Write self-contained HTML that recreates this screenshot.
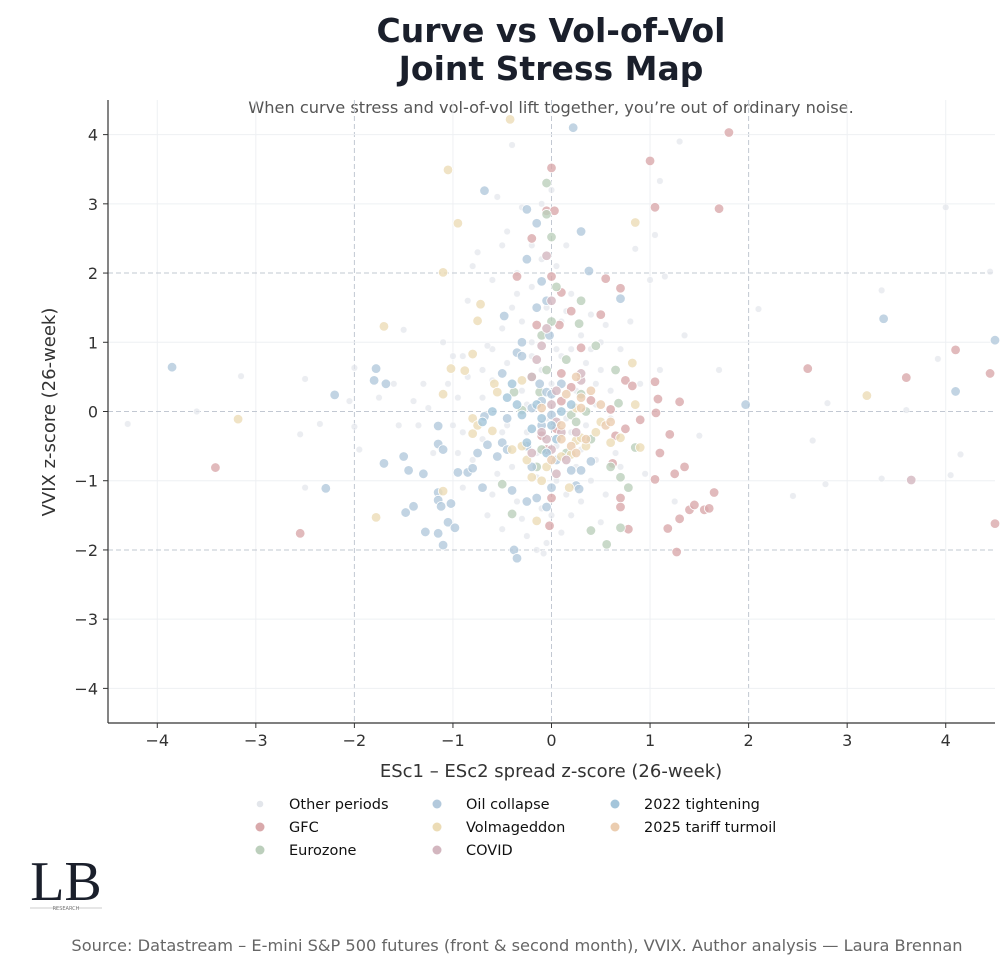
<!DOCTYPE html>
<html><head><meta charset="utf-8">
<style>
html,body{margin:0;padding:0;background:#fff;}
body{width:1008px;height:966px;overflow:hidden;font-family:"DejaVu Sans","Liberation Sans",sans-serif;}
</style></head>
<body>
<svg id="chart" width="1008" height="966" xmlns="http://www.w3.org/2000/svg" font-family="DejaVu Sans, Liberation Sans, sans-serif">
  <text x="551" y="42" text-anchor="middle" font-size="33" font-weight="bold" fill="#1a1f2b">Curve vs Vol-of-Vol</text>
  <text x="551" y="80" text-anchor="middle" font-size="33" font-weight="bold" fill="#1a1f2b">Joint Stress Map</text>
  <text x="551" y="113" text-anchor="middle" font-size="16.2" fill="#555">When curve stress and vol-of-vol lift together, you’re out of ordinary noise.</text>
  <g id="grid"></g>
  <g id="points"></g>
  <g id="axes"></g>
  <text x="551" y="777" text-anchor="middle" font-size="18" fill="#333">ESc1 – ESc2 spread z-score (26-week)</text>
  <text transform="translate(55,412) rotate(-90)" text-anchor="middle" font-size="18" fill="#333">VVIX z-score (26-week)</text>
  <g id="legend"></g>
  <g>
    <text x="66" y="900" text-anchor="middle" font-family="Liberation Serif, serif" font-size="56" fill="#1a1f2b">LB</text>
    <line x1="30" y1="908" x2="58" y2="908" stroke="#999" stroke-width="0.6"/>
    <line x1="76" y1="908" x2="102" y2="908" stroke="#999" stroke-width="0.6"/>
    <text x="66" y="910" text-anchor="middle" font-size="5" fill="#777">RESEARCH</text>
  </g>
  <text x="517" y="951" text-anchor="middle" font-size="16.2" fill="#666">Source: Datastream – E-mini S&amp;P 500 futures (front &amp; second month), VVIX. Author analysis — Laura Brennan</text>
</svg>
<script>
const seriesNames = ["Other periods","GFC","Eurozone","Oil collapse","Volmageddon","COVID","2022 tightening","2025 tariff turmoil"];
const xTicks = [-4,-3,-2,-1,0,1,2,3,4];
const yTicks = [-4,-3,-2,-1,0,1,2,3,4];
const otherPts = [[-4.3,-0.18],[-3.15,0.51],[-2.5,0.47],[-2.55,-0.33],[-2.5,-1.1],[-2.35,-0.18],[-2.0,0.63],[-2.05,0.15],[-2.0,-0.22],[-1.95,-0.55],[-1.75,0.2],[-1.6,0.4],[-1.5,1.18],[-1.55,-0.2],[-1.35,-0.2],[-1.4,0.15],[-1.2,-0.6],[-1.25,0.05],[-1.1,1.0],[-1.0,0.8],[-1.05,0.4],[-0.95,0.2],[-0.9,-0.3],[-0.95,-0.6],[-0.9,-1.1],[-0.85,1.6],[-0.8,2.1],[-0.75,2.3],[-0.7,0.6],[-0.7,-0.4],[-0.65,-1.5],[-0.6,1.9],[-0.6,0.9],[-0.55,3.1],[-0.5,2.4],[-0.5,1.2],[-0.5,-0.3],[-0.5,-1.7],[-0.45,2.6],[-0.45,0.7],[-0.4,-0.8],[-0.4,1.5],[-0.4,3.85],[-0.35,2.0],[-0.35,-1.3],[-0.3,2.95],[-0.3,1.3],[-0.3,0.3],[-0.25,-0.3],[-0.25,-1.8],[-0.2,1.8],[-0.2,0.8],[-0.2,2.4],[-0.15,-0.6],[-0.15,-2.0],[-0.1,3.0],[-0.1,2.2],[-0.1,0.6],[-0.1,-1.4],[-0.05,1.5],[-0.05,-0.1],[-0.05,-1.9],[0.0,3.2],[0.0,0.4],[0.0,-1.5],[0.05,2.1],[0.05,0.9],[0.05,-0.5],[0.1,-1.75],[0.1,1.3],[0.15,2.4],[0.15,-0.1],[0.15,-1.2],[0.2,0.9],[0.2,1.7],[0.2,-1.5],[0.25,0.3],[0.25,-0.8],[0.3,1.1],[0.3,-1.3],[0.35,0.7],[0.35,-0.2],[0.4,1.4],[0.4,-1.0],[0.45,0.4],[0.45,-0.7],[0.5,1.0],[0.55,1.25],[0.55,-1.2],[0.6,0.3],[0.65,-0.6],[0.7,0.9],[0.8,1.3],[0.85,2.35],[0.9,0.4],[0.95,-0.9],[1.0,1.9],[1.05,2.55],[1.1,3.33],[1.1,0.6],[1.15,1.95],[1.25,-1.3],[1.3,3.9],[1.35,1.1],[1.5,-0.35],[2.1,1.48],[2.45,-1.22],[2.65,-0.42],[2.8,0.12],[2.78,-1.05],[3.35,1.75],[3.35,-0.97],[3.6,0.02],[3.92,0.76],[4.0,2.95],[4.05,-0.92],[4.15,-0.62],[4.45,2.02],[1.7,0.6],[-0.15,-0.95],[0.1,0.8],[-0.6,0.45],[-0.7,0.2],[-0.85,0.5],[0.6,-0.1],[0.5,0.6],[-0.3,-1.55],[0.15,1.45],[-0.2,1.0],[0.3,-0.55],[-0.9,0.8],[0.45,0.1],[-0.45,-0.2],[-3.6,0.0],[-0.08,-2.05],[0.5,-1.6],[-0.65,0.95],[-0.8,-0.7],[-0.55,-0.9],[-0.35,1.7],[0.2,-0.3],[-0.25,0.1],[0.4,0.9],[-1.0,-0.2],[-1.3,0.4],[0.7,-0.8],[-0.6,-1.2],[0.05,-1.0]];
const gfcPts = [[-3.41,-0.81],[-2.55,-1.76],[2.6,0.62],[3.6,0.49],[4.1,0.89],[4.45,0.55],[4.5,-1.62],[1.8,4.03],[1.7,2.93],[1.0,3.62],[1.05,2.95],[0.0,3.52],[-0.05,2.9],[0.03,2.9],[-0.2,2.5],[-0.35,1.95],[0.0,1.95],[0.55,1.92],[0.5,1.4],[0.7,1.78],[0.3,0.92],[0.2,1.45],[0.1,1.72],[1.05,0.43],[1.08,0.18],[1.06,-0.02],[1.1,-0.6],[1.05,-0.98],[1.2,-0.33],[1.25,-0.9],[1.35,-0.8],[1.3,-1.55],[1.4,-1.42],[1.45,-1.35],[1.55,-1.42],[1.6,-1.4],[1.65,-1.17],[1.18,-1.69],[1.27,-2.03],[1.3,0.14],[0.75,0.45],[0.82,0.37],[0.9,-0.12],[0.7,-1.25],[0.7,-1.38],[0.78,-1.7],[0.62,-0.75],[0.6,0.03],[0.4,0.16],[0.2,0.35],[0.1,0.15],[0.05,-0.25],[-0.1,-0.35],[-0.05,-0.55],[0.0,-1.25],[-0.02,-1.65],[0.1,0.55],[0.08,1.25],[-0.15,1.25],[0.75,-0.25],[0.65,-0.35]];
const euroPts = [[-0.05,3.3],[0.0,2.52],[-0.05,2.85],[0.05,1.8],[0.0,1.3],[-0.1,1.1],[-0.2,0.5],[0.15,0.75],[0.28,1.27],[0.3,1.6],[0.45,0.95],[0.3,0.25],[0.2,-0.05],[0.25,-0.15],[0.15,-0.6],[0.4,-0.4],[0.6,-0.8],[0.7,-0.95],[0.78,-1.1],[0.7,-1.68],[0.4,-1.72],[0.56,-1.92],[-0.4,-1.48],[-0.1,-0.55],[-0.15,-0.8],[-0.5,-1.05],[-0.38,0.28],[-0.3,0.02],[-0.12,0.28],[0.65,0.6],[0.68,0.12],[0.85,-0.52],[-0.05,0.6],[0.35,0.0]];
const oilPts = [[-3.85,0.64],[-2.2,0.24],[-2.29,-1.11],[-1.7,-0.75],[-1.68,0.4],[-1.78,0.62],[-1.8,0.45],[-1.5,-0.65],[-1.45,-0.85],[-1.4,-1.37],[-1.48,-1.46],[-1.3,-0.9],[-1.28,-1.74],[-1.15,-1.76],[-1.1,-1.93],[-1.05,-1.6],[-1.02,-1.33],[-0.98,-1.68],[-1.15,-1.17],[-1.15,-1.28],[-1.12,-1.37],[-1.15,-0.47],[-1.1,-0.55],[-1.15,-0.21],[-0.95,-0.88],[-0.85,-0.88],[-0.8,-0.82],[-0.75,-0.6],[-0.7,-1.1],[-0.68,-0.07],[-0.65,-0.48],[-0.55,-0.65],[-0.5,-0.45],[-0.45,-0.1],[-0.4,-1.14],[-0.38,-2.0],[-0.35,-2.12],[-0.25,-1.3],[-0.2,-0.8],[-0.15,-1.25],[-0.05,-1.38],[0.0,-1.1],[0.05,-0.7],[0.25,-1.07],[0.28,-1.12],[0.3,-0.85],[0.2,-0.85],[0.4,-0.72],[-0.68,3.19],[-0.25,2.92],[-0.25,2.2],[-0.15,2.72],[-0.1,1.88],[0.3,2.6],[0.38,2.03],[0.7,1.63],[0.22,4.1],[-0.48,1.38],[-0.3,1.0],[-0.35,0.85],[-0.05,0.28],[-0.12,0.4],[-0.1,0.15],[0.0,0.25],[0.1,0.4],[3.37,1.34],[4.1,0.29],[1.97,0.1],[4.5,1.03],[-0.3,0.8],[-0.5,0.55],[-0.2,0.05],[-0.1,-0.2],[-0.25,-0.5],[-0.45,-0.55],[0.0,-0.05],[-0.15,1.5],[-0.05,1.6],[-0.02,1.1]];
const volPts = [[-0.42,4.22],[-1.05,3.49],[-0.95,2.72],[-1.1,2.01],[-1.7,1.23],[-3.18,-0.11],[-1.78,-1.53],[-0.72,1.55],[-0.75,1.31],[-0.8,0.83],[-1.02,0.62],[-0.88,0.59],[-1.1,0.25],[-0.8,-0.1],[-0.75,-0.2],[-0.8,-0.32],[-0.6,-0.28],[-0.58,0.4],[-0.55,0.28],[-0.4,-0.55],[-0.3,-0.5],[-0.25,-0.7],[-0.2,-0.95],[-0.1,-1.0],[-0.15,-1.58],[-0.05,-0.8],[0.2,-0.62],[0.1,-0.65],[0.25,-0.42],[0.35,-0.5],[0.45,-0.3],[0.5,-0.15],[0.6,-0.45],[0.7,-0.38],[0.9,-0.52],[0.85,0.1],[0.85,2.73],[0.82,0.7],[3.2,0.23],[-1.1,-1.15],[0.18,-1.1],[0.25,0.05],[-0.3,0.45],[0.3,-0.38]];
const covidPts = [[3.65,-0.99],[-0.05,2.25],[0.0,1.6],[-0.1,0.95],[-0.2,0.5],[0.0,0.1],[0.05,-0.15],[-0.05,-0.4],[0.0,-0.55],[0.1,-0.3],[0.05,-0.9],[0.15,-0.7],[0.25,-0.3],[-0.2,-0.6],[-0.1,-0.3],[0.05,0.3],[-0.15,0.75],[0.3,0.45],[-0.05,1.2],[0.3,0.55]];
const tightPts = [[-0.4,0.4],[-0.35,0.1],[-0.3,-0.05],[-0.2,-0.25],[-0.1,-0.1],[-0.15,0.1],[0.0,-0.2],[0.05,-0.4],[-0.05,-0.6],[-0.25,-0.45],[-0.45,0.2],[-0.6,0.0],[-0.7,-0.15],[0.2,0.1],[0.1,0.0]];
const tariffPts = [[0.25,0.5],[0.3,0.2],[0.4,0.3],[0.5,0.1],[0.55,-0.2],[0.35,-0.4],[0.2,-0.5],[0.1,-0.4],[0.0,-0.7],[0.1,-0.2],[-0.1,0.05],[0.15,0.25],[0.6,-0.15],[0.25,-0.6],[0.3,0.05]];

const NS="http://www.w3.org/2000/svg";
const L=108,R=995,T=100,B=723, xMin=-4.5,xMax=4.5,yMin=-4.5,yMax=4.5;
const sx=v=>L+(v-xMin)/(xMax-xMin)*(R-L);
const sy=v=>B-(v-yMin)/(yMax-yMin)*(B-T);
function mk(tag,attrs,parent){const e=document.createElementNS(NS,tag);for(const k in attrs)e.setAttribute(k,attrs[k]);parent.appendChild(e);return e;}
const grid=document.getElementById('grid'),axes=document.getElementById('axes'),pts=document.getElementById('points'),leg=document.getElementById('legend');
xTicks.forEach(t=>{
  const dashed=(t===0||Math.abs(t)===2);
  const g=mk('line',{x1:sx(t),x2:sx(t),y1:T,y2:B,stroke:dashed?'#c2c8d2':'#eef0f3','stroke-width':1,'stroke-dasharray':dashed?'5,3':'none'},grid);
  
  
  const tk=mk('line',{x1:sx(t),x2:sx(t),y1:B,y2:B+5,stroke:'#333'},axes);
  
  
  const lb=mk('text',{x:sx(t),y:B+23,'text-anchor':'middle','font-size':16,fill:'#333'},axes);
  lb.textContent=(t<0?'\u2212'+Math.abs(t):t);
  
  
});
yTicks.forEach(t=>{
  const dashed=(t===0||Math.abs(t)===2);
  const g=mk('line',{x1:L,x2:R,y1:sy(t),y2:sy(t),stroke:dashed?'#c2c8d2':'#eef0f3','stroke-width':1,'stroke-dasharray':dashed?'5,3':'none'},grid);
  
  
  const tk=mk('line',{x1:L-5,x2:L,y1:sy(t),y2:sy(t),stroke:'#333'},axes);
  
  
  const lb=mk('text',{x:L-10,y:sy(t)+6,'text-anchor':'end','font-size':16,fill:'#333'},axes);
  lb.textContent=(t<0?'\u2212'+Math.abs(t):t);
  
  
});
const ax1=mk('line',{x1:L,x2:L,y1:T,y2:B,stroke:'#333','stroke-width':1.2},axes);


const ax2=mk('line',{x1:L,x2:R,y1:B,y2:B,stroke:'#333','stroke-width':1.2},axes);



const colors=['#e3e6eb','#d9a9ab','#bccfbc','#b3c9dc','#ecdcb6','#d3b6bf','#a4c5da','#ebcdb0'];
const allSeries=[otherPts,gfcPts,euroPts,oilPts,volPts,covidPts,tightPts,tariffPts];
allSeries.forEach((arr,i)=>{
  arr.forEach(p=>{
    if(p[0]<xMin||p[0]>xMax+0.05) return;
    const c=mk('circle',{cx:sx(p[0]),cy:sy(p[1]),r:i===0?3.3:4.8,fill:colors[i],'fill-opacity':i===0?0.7:0.8,stroke:'#fff','stroke-width':i===0?0.5:0.8},pts);
    
    
  });
});
const legX=[260,437,615], legY=[804,827,850];
seriesNames.forEach((n,i)=>{
  const col=Math.floor(i/3), row=i%3;
  const g=mk('g',{},leg);
  
  
  mk('circle',{cx:legX[col],cy:legY[row],r:i===0?3.3:4.5,fill:colors[i]},g);
  const t=mk('text',{x:legX[col]+29,y:legY[row]+5,'font-size':14.5,fill:'#111'},g);
  t.textContent=n;
});
</script>
</body></html>
